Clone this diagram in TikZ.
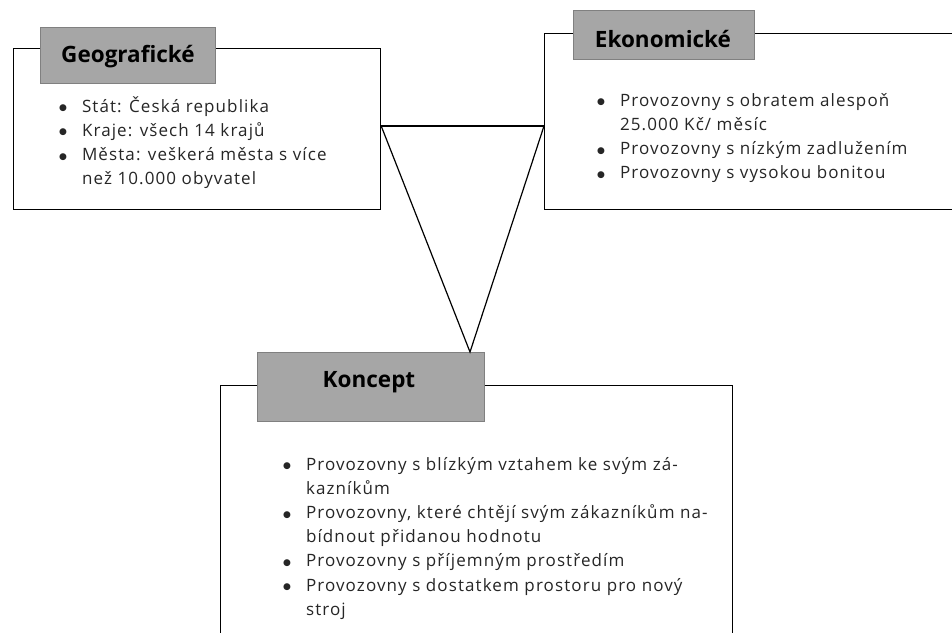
\documentclass[tikz,border=0pt]{standalone}
\usepackage{fontspec}
\setmainfont{Open Sans}
\newfontfamily\bodyfont[LetterSpace=6.5]{Open Sans}
\newfontfamily\dotfont{DejaVu Sans}
\definecolor{hdrfill}{HTML}{A6A6A6}
\definecolor{hdrline}{HTML}{808080}
\tikzset{
  panel/.style={draw=black, line width=1.2pt, fill=white, anchor=north west, inner sep=0pt},
  header/.style={draw=hdrline, line width=0.9pt, fill=hdrfill, anchor=north west, inner sep=0pt},
  title/.style={inner sep=0pt, font=\fontsize{22.5}{25}\selectfont\bfseries},
  items/.style={anchor=north west, inner sep=0pt, font=\bodyfont\fontsize{17}{24.2}\selectfont\color{black!85}},
  link/.style={draw=black, line width=1.2pt},
}
\newcommand{\itemlist}[1]{\begin{tabular}{@{}l@{\hspace{15pt}}l@{}}#1\end{tabular}}
\newcommand{\bul}{\raisebox{1.5pt}{\dotfont\fontsize{9}{9}\selectfont ●}}
\begin{document}
\begin{tikzpicture}[x=1pt,y=-1pt]
\useasboundingbox (0,0) rectangle (952,632);
\clip (0,0) rectangle (952,632);
\fill[white] (0,0) rectangle (952,632);

% panels
\node[panel, minimum width=367pt, minimum height=161pt] (geo) at (13,48) {};
\node[panel, minimum width=420pt, minimum height=176pt] (eko) at (544,33) {};
\node[panel, minimum width=512pt, minimum height=260pt] (kon) at (220,385) {};

% headers
\node[header, minimum width=175pt, minimum height=56pt] (geoh) at (40,27) {};
\node[title] (geot) at (128,57) {Geografické};
\node[header, minimum width=181pt, minimum height=49pt] (ekoh) at (573,10) {};
\node[title] (ekot) at (663,39) {Ekonomické};
\node[header, minimum width=227pt, minimum height=69pt] (konh) at (257,352) {};
\node[title] (kont) at (369,382) {Koncept};

% bullet lists
\node[items] (geol) at (59,95) {\itemlist{
  \bul & Stát: Česká republika\\
  \bul & Kraje: všech 14 krajů\\
  \bul & Města: veškerá města s více\\
       & než 10.000 obyvatel}};
\node[items] (ekol) at (597,89) {\itemlist{
  \bul & Provozovny s obratem alespoň\\
       & 25.000 Kč/ měsíc\\
  \bul & Provozovny s nízkým zadlužením\\
  \bul & Provozovny s vysokou bonitou}};
\node[items] (konl) at (283,453) {\itemlist{
  \bul & Provozovny s blízkým vztahem ke svým zá-\\
       & kazníkům\\
  \bul & Provozovny, které chtějí svým zákazníkům na-\\
       & bídnout přidanou hodnotu\\
  \bul & Provozovny s příjemným prostředím\\
  \bul & Provozovny s dostatkem prostoru pro nový\\
       & stroj}};

% connectors
\coordinate (gj) at (geo.east |- 0,126);
\coordinate (ej) at (eko.west |- 0,126);
\coordinate (apex) at (470,352);
\draw[link] (gj) -- (ej);
\draw[link] (gj) -- (apex) -- (ej);
\end{tikzpicture}
\end{document}
